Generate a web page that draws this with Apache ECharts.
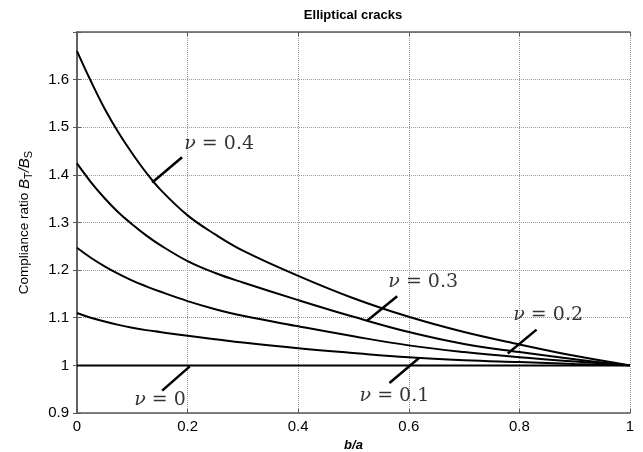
<!DOCTYPE html>
<html>
<head>
<meta charset="utf-8">
<script src="https://cdn.jsdelivr.net/npm/echarts@6/dist/echarts.min.js"></script>
<style>
  html, body { margin: 0; padding: 0; background: #fff; }
  #chart { width: 643px; height: 452px; }
</style>
</head>
<body>
<div id="chart"></div>
<script>
// b/a sample points and compliance ratio per Poisson ratio
const bOverA = [0, 0.025, 0.05, 0.075, 0.1, 0.125, 0.15, 0.2, 0.25, 0.3, 0.4, 0.5, 0.6, 0.7, 0.8, 0.9, 1.0];
const nu04 = [1.66, 1.597, 1.539, 1.489, 1.445, 1.405, 1.37, 1.315, 1.275, 1.241, 1.188, 1.141, 1.102, 1.07, 1.044, 1.02, 1.0];
const nu03 = [1.424, 1.385, 1.351, 1.321, 1.296, 1.273, 1.253, 1.219, 1.194, 1.174, 1.137, 1.102, 1.07, 1.045, 1.028, 1.013, 1.0];
const nu02 = [1.247, 1.226, 1.208, 1.192, 1.178, 1.166, 1.155, 1.135, 1.118, 1.104, 1.082, 1.061, 1.042, 1.028, 1.017, 1.008, 1.0];
const nu01 = [1.11, 1.1, 1.092, 1.085, 1.079, 1.074, 1.07, 1.062, 1.055, 1.048, 1.036, 1.026, 1.017, 1.011, 1.007, 1.003, 1.0];
const nu00 = [1, 1, 1, 1, 1, 1, 1, 1, 1, 1, 1, 1, 1, 1, 1, 1, 1];

const yTicks = [0.9, 1, 1.1, 1.2, 1.3, 1.4, 1.5, 1.6];

// curve labels: text anchor and leader line ends, in data coords
const labelNames = ["0.4", "0.3", "0.2", "0.1", "0"];
const labelAt = [[0.257, 1.465], [0.626, 1.174], [0.852, 1.105], [0.574, 0.936], [0.150, 0.928]];
const leaderFrom = [[0.136, 1.384], [0.524, 1.093], [0.779, 1.025], [0.565, 0.963], [0.154, 0.947]];
const leaderTo = [[0.190, 1.437], [0.579, 1.145], [0.831, 1.075], [0.618, 1.015], [0.204, 0.998]];

const chart = echarts.init(document.getElementById("chart"));

const axisGray = "#5a5a5a";
const curve = (name, ys) => ({
  name,
  type: "line",
  data: bOverA.map((x, i) => [x, ys[i]]),
  showSymbol: false,
  smooth: 0.4,
  lineStyle: { color: "#000", width: 2 },
  silent: true,
  z: 3
});

const option = {
  animation: false,
  backgroundColor: "#fff",
  graphic: [
    {
      type: "text",
      x: 353,
      y: 15,
      style: {
        text: "Elliptical cracks",
        font: "bold 13px 'Liberation Sans', Arial, sans-serif",
        fill: "#000",
        textAlign: "center",
        textVerticalAlign: "middle"
      }
    }
  ],
  grid: { left: 77, right: 13, top: 32, bottom: 39, show: false, outerBoundsMode: "none", containLabel: false },
  xAxis: [
    {
      type: "value",
      min: 0,
      max: 1,
      interval: 0.2,
      name: "b/a",
      nameLocation: "middle",
      nameGap: 22,
      nameTextStyle: { fontFamily: "Liberation Sans", fontSize: 13, fontStyle: "italic", fontWeight: "bold", color: "#000" },
      axisLine: { lineStyle: { color: axisGray, width: 1.5 } },
      axisTick: { inside: true, length: 4, lineStyle: { color: axisGray } },
      axisLabel: { fontFamily: "Liberation Sans", fontSize: 15, color: "#000", margin: 6 },
      splitLine: { show: true, lineStyle: { color: "#999999", type: "dotted", width: 1 } }
    },
    {
      type: "value",
      position: "top",
      min: 0,
      max: 1,
      interval: 0.2,
      axisLine: { show: true, lineStyle: { color: axisGray, width: 1.5 } },
      axisTick: { inside: true, length: 4, lineStyle: { color: axisGray } },
      axisLabel: { show: false },
      splitLine: { show: false }
    }
  ],
  yAxis: [
    {
      type: "value",
      min: 0.9,
      max: 1.7,
      interval: 0.1,
      name: "{n|Compliance ratio }{i|B}{s|T}{i|/B}{s|S}",
      nameLocation: "middle",
      nameGap: 43,
      nameTextStyle: {
        color: "#000",
        rich: {
          n: { fontFamily: "Liberation Sans", fontSize: 13.5, color: "#000" },
          i: { fontFamily: "Liberation Sans", fontSize: 15, fontStyle: "italic", color: "#000" },
          s: { fontFamily: "Liberation Sans", fontSize: 11, color: "#000", padding: [8, 0, 0, 0] }
        }
      },
      axisLine: { show: true, lineStyle: { color: axisGray, width: 1.5 } },
      axisTick: { inside: true, length: 4, lineStyle: { color: axisGray } },
      axisLabel: {
        fontFamily: "Liberation Sans",
        fontSize: 15,
        color: "#000",
        margin: 8,
        formatter: (v) => (yTicks.some((t) => Math.abs(t - v) < 1e-6) ? String(+v.toFixed(1)) : "")
      },
      splitLine: { show: true, lineStyle: { color: "#999999", type: "dotted", width: 1 } }
    },
    {
      type: "value",
      position: "right",
      min: 0.9,
      max: 1.7,
      interval: 0.1,
      axisLine: { show: true, lineStyle: { color: axisGray, width: 1.5 } },
      axisTick: { inside: true, length: 4, lineStyle: { color: axisGray } },
      axisLabel: { show: false },
      splitLine: { show: false }
    }
  ],
  series: [
    curve("nu0.4", nu04),
    curve("nu0.3", nu03),
    curve("nu0.2", nu02),
    curve("nu0.1", nu01),
    curve("nu0", nu00),
    {
      type: "scatter",
      symbolSize: 0,
      silent: true,
      z: 4,
      data: labelNames.map((n, i) => ({ value: labelAt[i], name: n })),
      label: {
        show: true,
        position: "inside",
        formatter: (p) => "{g|ν} = " + p.name,
        fontFamily: "DejaVu Serif",
        fontSize: 19,
        color: "#000",
        rich: {
          g: { fontFamily: "DejaVu Serif", fontSize: 19, fontStyle: "italic", color: "#000" }
        }
      },
      markLine: {
        silent: true,
        symbol: ["none", "none"],
        label: { show: false },
        lineStyle: { color: "#000", width: 2.5, type: "solid" },
        data: leaderFrom.map((p, i) => [{ coord: p }, { coord: leaderTo[i] }])
      }
    }
  ]
};

chart.setOption(option);
window.onresize = function () {
  chart.resize();
};
</script>
</body>
</html>
